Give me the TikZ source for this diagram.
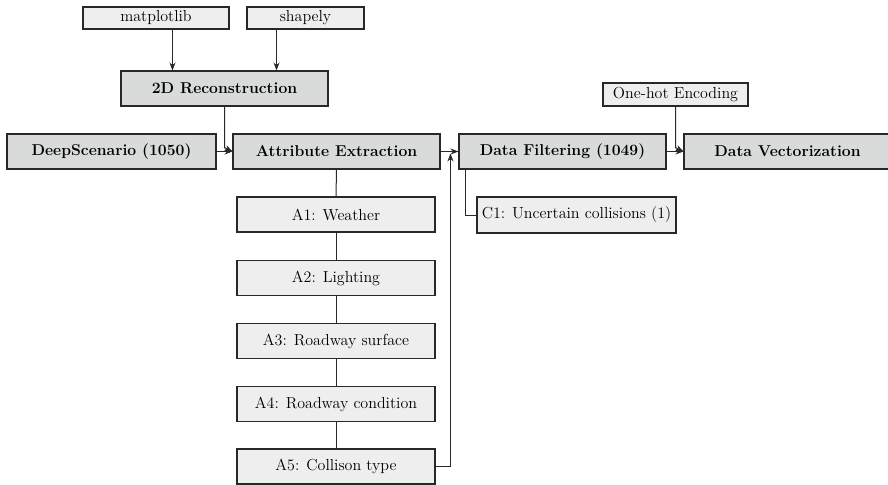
\documentclass[tikz,border=0pt]{standalone}
\usetikzlibrary{arrows.meta,calc}
\definecolor{mainfill}{RGB}{217,218,218}
\definecolor{subfill}{RGB}{238,238,238}
\definecolor{edge}{RGB}{40,40,40}
\begin{document}
\begin{tikzpicture}[x=0.75pt,y=-0.75pt,
  font=\fontsize{12}{14}\selectfont,
  mainbox/.style={draw=edge, fill=mainfill, line width=0.8pt, minimum width=155.25pt, minimum height=26.25pt, inner sep=0pt, font=\fontsize{11.8}{14}\selectfont\bfseries},
  subbox/.style={draw=edge, fill=subfill, line width=0.8pt, minimum height=26.25pt, inner sep=0pt},
  toolbox/.style={draw=edge, fill=subfill, line width=0.8pt, minimum height=16.5pt, inner sep=0pt},
  conn/.style={draw=edge, line width=0.75pt},
  arr/.style={conn, -{Stealth[length=6pt,width=4.5pt]}},
  thickarr/.style={arr, line width=1.4pt}]
\useasboundingbox (0,0) rectangle (888,485);

\node[toolbox, minimum width=109.5pt] (mpl) at (156,18) {matplotlib};
\node[toolbox, minimum width=87.75pt] (shp) at (305.5,18) {shapely};
\node[mainbox] (rec) at (224.5,88.5) {2D Reconstruction};
\node[mainbox, minimum width=156.75pt] (ds) at (111.5,151.5) {DeepScenario (1050)};
\node[mainbox] (ae) at (336.5,151.5) {Attribute Extraction};
\node[mainbox] (df) at (562.5,151.5) {Data Filtering (1049)};
\node[mainbox] (dv) at (787.5,151.5) {Data Vectorization};
\node[toolbox, minimum width=108.75pt, minimum height=17.25pt] (oh) at (675.5,94.5) {One-hot Encoding};
\node[subbox, minimum width=149.25pt, minimum height=27pt] (c1) at (576.5,215) {C1: Uncertain collisions (1)};
\node[subbox, minimum width=148.5pt] (a1) at (336,214.5) {A1: Weather};
\node[subbox, minimum width=148.5pt] (a2) at (336,278) {A2: Lighting};
\node[subbox, minimum width=148.5pt] (a3) at (336,341) {A3: Roadway surface};
\node[subbox, minimum width=148.5pt] (a4) at (336,404) {A4: Roadway condition};
\node[subbox, minimum width=148.5pt] (a5) at (336,466.5) {A5: Collison type};

\coordinate (rq1) at ($(rec.north west)!0.25!(rec.north east)$);
\coordinate (rq2) at ($(rec.north west)!0.75!(rec.north east)$);
\draw[arr] (mpl.south -| rq1) -- (rq1);
\draw[arr] (shp.south -| rq2) -- (rq2);
\draw[arr] (rec.south) -- ++(0,41) -- (ae.west);
\draw[arr] (ds.east) -- (ae.west);
\draw[thickarr] (ae.east) -- (df.west);
\draw[thickarr] (df.east) -- (dv.west);
\draw[arr] (oh.south) -- ++(0,41) -- (dv.west);
\draw[conn] ($(df.south west)+(7,0)$) |- (c1.west);
\coordinate (up) at ($(df.west)+(-8,2)$);
\draw[arr] (a5.east) -| (up);
\draw[conn] (ae.south) -- (a1.north);
\draw[conn] (a1.south) -- (a2.north);
\draw[conn] (a2.south) -- (a3.north);
\draw[conn] (a3.south) -- (a4.north);
\draw[conn] (a4.south) -- (a5.north);
\end{tikzpicture}
\end{document}
